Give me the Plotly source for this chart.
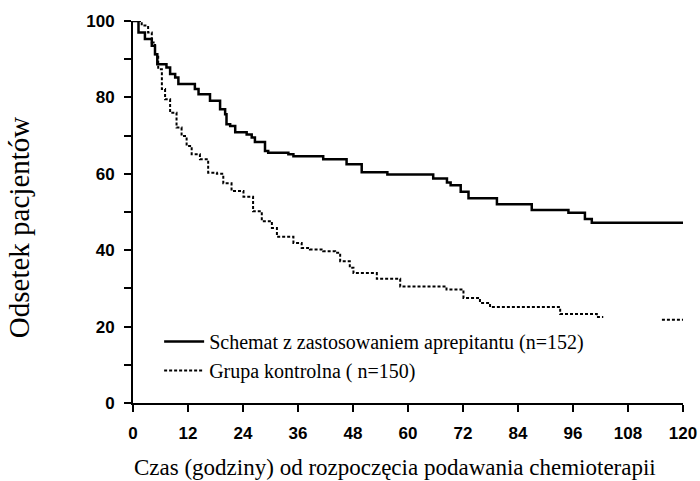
import plotly.graph_objects as go

# Aprepitant regimen (n=152): step times (h) and % patients
times_a = [0, 1.2, 2.6, 4.1, 4.8, 5.3, 7.3, 8.1, 9.2, 9.9,
           13.5, 14.3, 16.8, 19.0, 20.1, 20.4, 21.2, 22.3, 24.8, 25.9,
           26.6, 28.8, 29.5, 33.9, 35.0, 41.5, 46.6, 49.9, 55.5, 65.5,
           68.5, 69.3, 71.5, 73.2, 79.4, 87.0, 95.0, 98.6, 100.1, 120]
surv_a = [100, 97.0, 95.3, 93.5, 91.3, 88.7, 87.8, 86.1, 85.2, 83.5,
          82.2, 80.8, 79.1, 76.9, 75.6, 73.0, 72.5, 70.9, 70.3, 69.5,
          68.3, 66.0, 65.5, 65.1, 64.6, 63.8, 62.5, 60.4, 59.8, 58.8,
          57.7, 57.0, 55.3, 53.6, 52.0, 50.5, 49.8, 48.2, 47.2, 47.2]

# Control group (n=150)
times_c = [0, 1.9, 3.3, 4.1, 4.8, 5.5, 6.3, 7.0, 8.1, 9.5,
           10.6, 11.7, 12.8, 14.6, 16.4, 18.3, 19.7, 21.5, 24.1, 26.2,
           28.1, 30.3, 31.4, 35.0, 36.8, 38.6, 41.5, 44.1, 45.2, 47.3,
           48.1, 53.2, 58.3, 68.4, 72.1, 75.7, 77.9, 93.2, 101.2, 102.6,
           102.7, 115.4, 120]
surv_c = [100, 98.8, 97.0, 94.4, 91.3, 87.4, 82.2, 79.5, 76.0, 72.1,
          69.9, 67.3, 65.1, 63.8, 60.3, 60.0, 57.5, 55.5, 54.0, 50.2,
          47.6, 45.8, 43.5, 41.9, 40.6, 40.2, 39.7, 39.3, 37.1, 35.4,
          34.0, 32.5, 30.5, 29.7, 27.5, 26.2, 25.1, 23.3, 22.5, 22.5,
          None, 21.8, 21.8]

x_ticks = [0, 12, 24, 36, 48, 60, 72, 84, 96, 108, 120]
y_ticks = [0, 20, 40, 60, 80, 100]
y_minor = [10, 30, 50, 70, 90]

name_a = "Schemat z zastosowaniem aprepitantu (n=152)"
name_c = "Grupa kontrolna ( n=150)"
x_title = "Czas (godziny) od rozpoczęcia podawania chemioterapii"
y_title = "Odsetek pacjentów"

fig = go.Figure()
fig.add_trace(go.Scatter(x=times_a, y=surv_a, mode="lines", name=name_a,
                         line=dict(color="black", width=2.5, shape="hv")))
fig.add_trace(go.Scatter(x=times_c, y=surv_c, mode="lines", name=name_c,
                         connectgaps=False,
                         line=dict(color="black", width=2, shape="hv", dash="3px,2px")))

tickfont = dict(family="Liberation Sans, Arial", size=17, color="black", weight="bold")
fig.update_layout(
    width=700, height=481,
    margin=dict(l=133, r=17, t=21, b=78, autoexpand=False),
    paper_bgcolor="white", plot_bgcolor="white",
    showlegend=True,
    legend=dict(x=0.0475, y=0.212, xanchor="left", yanchor="top",
                bgcolor="rgba(0,0,0,0)", borderwidth=0, itemwidth=40,
                font=dict(family="Liberation Serif, Times New Roman", size=20, color="black"),
                tracegroupgap=0),
    xaxis=dict(range=[0, 120], tickvals=x_ticks, showline=True, linecolor="black",
               linewidth=1.5, ticks="outside", ticklen=7, tickwidth=1.5, tickcolor="black",
               showgrid=False, zeroline=False, tickfont=tickfont, ticklabelstandoff=7,
               automargin=False),
    yaxis=dict(range=[0, 100], tickvals=y_ticks, showline=True, linecolor="black",
               linewidth=2, ticks="outside", ticklen=7, tickwidth=1.5, tickcolor="black",
               showgrid=False, zeroline=False, tickfont=tickfont, ticklabelstandoff=6,
               automargin=False,
               minor=dict(tickvals=y_minor, ticks="outside", ticklen=7, tickwidth=1.5,
                          tickcolor="black", showgrid=False)),
    annotations=[
        dict(text=x_title, xref="paper", yref="paper", x=0.476, y=-0.17,
             xanchor="center", yanchor="middle", showarrow=False,
             font=dict(family="Liberation Serif, Times New Roman", size=23, color="black")),
        dict(text=y_title, xref="paper", yref="paper", x=-0.207, y=0.4607,
             xanchor="center", yanchor="middle", showarrow=False, textangle=-90,
             font=dict(family="Liberation Serif, Times New Roman", size=29, color="black")),
    ],
)

fig.write_html("out.html", config={"displayModeBar": False},
               post_script="document.body.style.margin='0';")
